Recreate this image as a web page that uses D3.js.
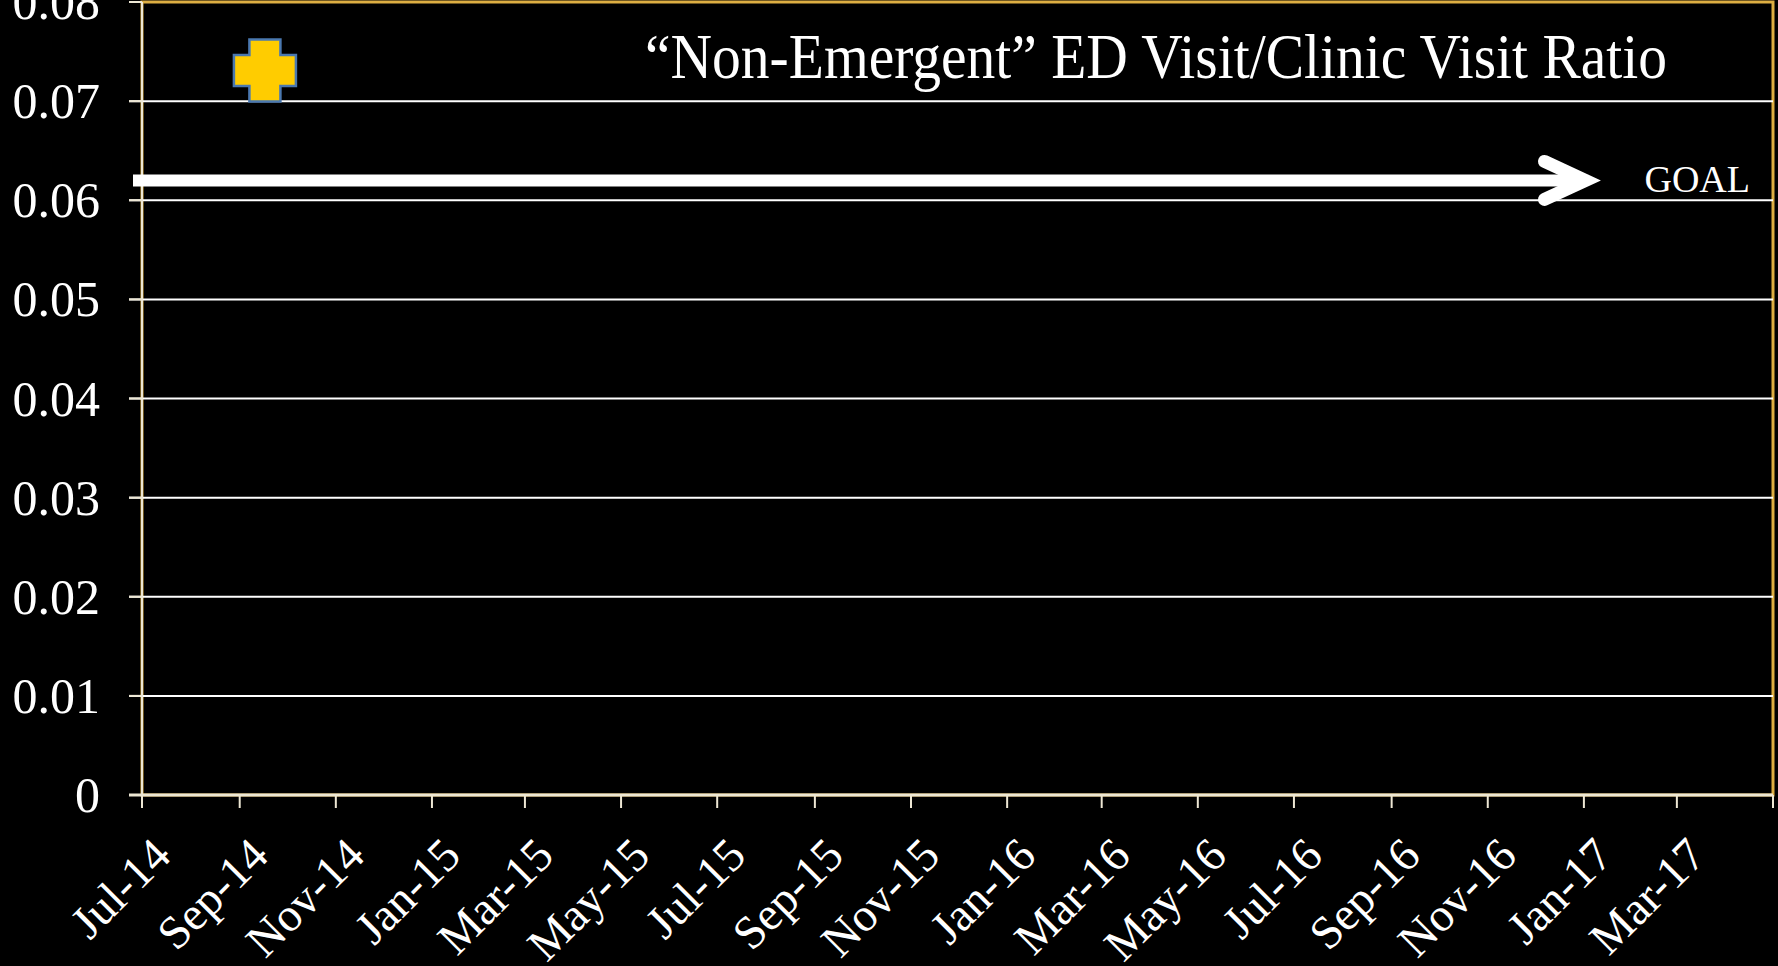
<!DOCTYPE html>
<html>
<head>
<meta charset="utf-8">
<script src="https://cdn.jsdelivr.net/npm/d3@7"></script>
<style>
    html, body { margin: 0; padding: 0; background: #000; }
    svg { display: block; }
    text { font-family: "Liberation Serif", "DejaVu Serif", serif; fill: #fff; }
</style>
</head>
<body>
<div id="vis1"></div>
<script>
// data
const xTickLabels = ["Jul-14", "Sep-14", "Nov-14", "Jan-15", "Mar-15", "May-15", "Jul-15", "Sep-15",
    "Nov-15", "Jan-16", "Mar-16", "May-16", "Jul-16", "Sep-16", "Nov-16", "Jan-17", "Mar-17"];
const xDomain = ["2014-07-01", "2017-05-01"];
const yTicks = [0, 0.01, 0.02, 0.03, 0.04, 0.05, 0.06, 0.07, 0.08];
const pointDates = ["2014-09-17"];
const pointValues = [0.0731];
const goalValue = 0.062;
const goalArrowEnd = "2017-01-02";
const title = "\u201cNon-Emergent\u201d ED Visit/Clinic Visit Ratio";

const gold = "#DDAE42";
const cream = "#EDE7D4";

function vis1() {
    const width = 1778;
    const height = 966;
    const margin = {
        left: 142,
        top: 2,
        right: 5,
        bottom: 171
    };

    const parseDay = d3.timeParse("%Y-%m-%d");
    const parseTick = d3.timeParse("%b-%y");

    const svg = d3.select("#vis1")
        .append("svg")
        .attr("width", width)
        .attr("height", height)
        .attr("viewBox", `0 0 ${width} ${height}`);

    svg.append("rect")
        .attr("width", width)
        .attr("height", height)
        .attr("fill", "#000");

    const xScale = d3.scaleTime()
        .domain(xDomain.map(parseDay))
        .range([margin.left, width - margin.right]);

    const yScale = d3.scaleLinear()
        .domain([0, 0.08])
        .range([height - margin.bottom, margin.top]);

    const tickDates = xTickLabels.map(parseTick).concat([xScale.domain()[1]]);

    // plot area frame
    svg.append("rect")
        .attr("x", xScale.range()[0])
        .attr("y", yScale.range()[1])
        .attr("width", xScale.range()[1] - xScale.range()[0])
        .attr("height", yScale.range()[0] - yScale.range()[1])
        .attr("fill", "none")
        .attr("stroke", gold)
        .attr("stroke-width", 3);

    // gridlines
    svg.selectAll(".grid")
        .data(yTicks.filter(d => d > 0 && d < 0.08))
        .join("line")
            .attr("class", "grid")
            .attr("x1", xScale.range()[0] - 13)
            .attr("x2", xScale.range()[1])
            .attr("y1", d => yScale(d))
            .attr("y2", d => yScale(d))
            .attr("stroke", "#fff")
            .attr("stroke-width", 2);

    // y axis
    const yAxis = svg.append("g")
        .attr("class", "y-axis");

    yAxis.append("line")
        .attr("x1", xScale.range()[0])
        .attr("x2", xScale.range()[0])
        .attr("y1", yScale.range()[0] + 13)
        .attr("y2", yScale.range()[1])
        .attr("stroke", cream)
        .attr("stroke-width", 2);

    yAxis.selectAll(".y-tick")
        .data(yTicks)
        .join("line")
            .attr("class", "y-tick")
            .attr("x1", xScale.range()[0] - 13)
            .attr("x2", xScale.range()[0])
            .attr("y1", d => yScale(d))
            .attr("y2", d => yScale(d))
            .attr("stroke", cream)
            .attr("stroke-width", 2);

    yAxis.selectAll(".y-label")
        .data(yTicks)
        .join("text")
            .attr("class", "y-label")
            .attr("text-anchor", "end")
            .style("font-size", "50px")
            .attr("x", xScale.range()[0] - 42)
            .attr("y", d => yScale(d))
            .attr("dy", "0.34em")
            .text(d => d === 0 ? "0" : d3.format(".2f")(d));

    // x axis
    const xAxis = svg.append("g")
        .attr("class", "x-axis")
        .attr("transform", `translate(0, ${yScale.range()[0]})`);

    xAxis.append("line")
        .attr("x1", xScale.range()[0] - 13)
        .attr("x2", xScale.range()[1])
        .attr("y1", 0)
        .attr("y2", 0)
        .attr("stroke", cream)
        .attr("stroke-width", 3);

    xAxis.selectAll(".x-tick")
        .data(tickDates)
        .join("line")
            .attr("class", "x-tick")
            .attr("x1", d => xScale(d))
            .attr("x2", d => xScale(d))
            .attr("y1", 0)
            .attr("y2", 13)
            .attr("stroke", cream)
            .attr("stroke-width", 2);

    xAxis.selectAll(".x-label")
        .data(xTickLabels)
        .join("text")
            .attr("class", "x-label")
            .attr("text-anchor", "end")
            .style("font-size", "47px")
            .attr("transform", d => `translate(${xScale(parseTick(d)) + 31}, 63) rotate(-45)`)
            .text(d => d);

    // goal arrow
    const goalY = yScale(goalValue);
    const tipX = xScale(parseDay(goalArrowEnd));
    const gGoal = svg.append("g")
        .attr("class", "goal");

    gGoal.append("line")
        .attr("x1", xScale.range()[0] - 9)
        .attr("x2", tipX - 6)
        .attr("y1", goalY)
        .attr("y2", goalY)
        .attr("stroke", "#fff")
        .attr("stroke-width", 12);

    gGoal.append("path")
        .attr("d", `M${tipX - 41},${goalY - 19} L${tipX},${goalY} L${tipX - 41},${goalY + 19}`)
        .attr("fill", "none")
        .attr("stroke", "#fff")
        .attr("stroke-width", 13)
        .attr("stroke-linecap", "round")
        .attr("stroke-linejoin", "miter");

    gGoal.append("text")
        .attr("x", tipX + 59)
        .attr("y", goalY)
        .attr("dy", "0.3em")
        .style("font-size", "38px")
        .text("GOAL");

    // data points: plus-shaped markers
    const size = 62;
    const arm = 31;
    const crossPath = (cx, cy) => {
        const o = size / 2, a = arm / 2;
        return `M${cx - a},${cy - o} H${cx + a} V${cy - a} H${cx + o} V${cy + a} H${cx + a} V${cy + o}` +
            ` H${cx - a} V${cy + a} H${cx - o} V${cy - a} H${cx - a} Z`;
    };

    svg.selectAll(".point")
        .data(pointValues.map((v, i) => ({ date: parseDay(pointDates[i]), value: v })))
        .join("path")
            .attr("class", "point")
            .attr("d", d => crossPath(xScale(d.date), yScale(d.value)))
            .attr("fill", "#FFCC00")
            .attr("stroke", "#4A78B0")
            .attr("stroke-width", 2.5);

    // title
    svg.append("text")
        .attr("class", "title")
        .attr("x", 645)
        .attr("y", 78)
        .attr("textLength", 1022)
        .attr("lengthAdjust", "spacingAndGlyphs")
        .style("font-size", "64px")
        .text(title);
}

vis1();
</script>
</body>
</html>
